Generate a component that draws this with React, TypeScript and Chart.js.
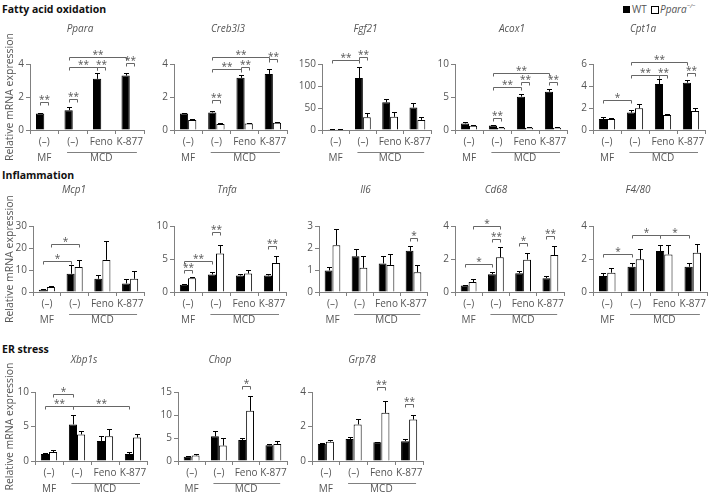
import React, { useEffect, useRef } from 'react';
import { Chart, registerables } from 'chart.js';

Chart.register(...registerables);

const FONT = "'Open Sans', 'Noto Sans', sans-serif";
const TEXT = '#555555';
const AXIS = '#808080';

// ---------- data ----------
const CATEGORIES = ['(–)', '(–)', 'Feno', 'K-877'];
const GROUP_LABELS = ['MF', 'MCD'];
const SERIES_NAMES = ['WT', 'Ppara−/−'];
const Y_TITLE = 'Relative mRNA expression';
const SECTIONS = ['Fatty acid oxidation', 'Inflammation', 'ER stress'];

// bracket: [catA, seriesA, catB, seriesB, level, label]
type Sig = [number, number, number, number, number, string];

const PPARA_WT = [1.0, 1.2, 3.1, 3.3];
const PPARA_WT_ERR = [0.06, 0.17, 0.34, 0.18];
const PPARA_KO = [0, 0, 0, 0];
const PPARA_KO_ERR = [0, 0, 0, 0];
const PPARA_SIG: Sig[] = [
  [0, 0, 0, 1, 1.7, '**'], [1, 0, 1, 1, 1.85, '**'], [1, 0, 2, 0, 3.8, '**'],
  [2, 0, 2, 1, 3.8, '**'], [1, 0, 3, 0, 4.4, '**'], [3, 0, 3, 1, 4.05, '**'],
];

const CREB_WT = [1.0, 1.06, 3.16, 3.4];
const CREB_WT_ERR = [0.05, 0.08, 0.2, 0.3];
const CREB_KO = [0.6, 0.36, 0.4, 0.44];
const CREB_KO_ERR = [0.07, 0.04, 0.03, 0.03];
const CREB_SIG: Sig[] = [
  [1, 0, 1, 1, 1.8, '**'], [1, 0, 2, 0, 3.7, '**'], [2, 0, 2, 1, 3.8, '**'],
  [1, 0, 3, 0, 4.4, '**'], [3, 0, 3, 1, 4.3, '**'],
];

const FGF_WT = [1.5, 118, 63, 51];
const FGF_WT_ERR = [0.5, 26, 7, 10];
const FGF_KO = [1.5, 29, 30, 23];
const FGF_KO_ERR = [0.5, 9, 12, 7];
const FGF_SIG: Sig[] = [[0, 0, 1, 0, 158, '**'], [1, 0, 1, 1, 165, '**']];

const ACOX_WT = [1.0, 0.7, 5.05, 5.8];
const ACOX_WT_ERR = [0.15, 0.1, 0.4, 0.35];
const ACOX_KO = [0.65, 0.35, 0.35, 0.35];
const ACOX_KO_ERR = [0.05, 0.05, 0.05, 0.05];
const ACOX_SIG: Sig[] = [
  [1, 0, 1, 1, 1.8, '**'], [1, 0, 2, 0, 6.5, '**'], [2, 0, 2, 1, 7.2, '**'],
  [1, 0, 3, 0, 8.6, '**'], [3, 0, 3, 1, 7.2, '**'],
];

const CPT_WT = [1.0, 1.58, 4.18, 4.3];
const CPT_WT_ERR = [0.15, 0.22, 0.46, 0.25];
const CPT_KO = [1.0, 1.97, 1.36, 1.73];
const CPT_KO_ERR = [0.06, 0.36, 0.09, 0.3];
const CPT_SIG: Sig[] = [
  [0, 0, 1, 0, 2.73, '*'], [1, 0, 2, 0, 5.0, '**'], [2, 0, 2, 1, 5.0, '**'],
  [1, 0, 3, 0, 6.2, '**'], [3, 0, 3, 1, 5.2, '**'],
];

const MCP_WT = [1.07, 8.3, 6.0, 3.9];
const MCP_WT_ERR = [0.3, 4.0, 1.8, 1.8];
const MCP_KO = [2.3, 11.4, 14.6, 6.0];
const MCP_KO_ERR = [0.5, 3.2, 8.4, 3.6];
const MCP_SIG: Sig[] = [[0, 0, 1, 0, 14, '*'], [0, 1, 1, 1, 21.7, '*']];

const TNF_WT = [1.1, 2.65, 2.5, 2.5];
const TNF_WT_ERR = [0.15, 0.35, 0.25, 0.3];
const TNF_KO = [2.1, 5.85, 2.8, 4.4];
const TNF_KO_ERR = [0.1, 1.25, 0.6, 1.0];
const TNF_SIG: Sig[] = [
  [0, 0, 0, 1, 3.4, '**'], [0, 0, 1, 0, 4.75, '**'], [1, 0, 1, 1, 9.1, '**'], [3, 0, 3, 1, 7.0, '**'],
];

const IL6_WT = [0.98, 1.62, 1.3, 1.87];
const IL6_WT_ERR = [0.14, 0.33, 0.35, 0.23];
const IL6_KO = [2.13, 1.1, 1.23, 0.9];
const IL6_KO_ERR = [0.72, 0.55, 0.49, 0.33];
const IL6_SIG: Sig[] = [[3, 0, 3, 1, 2.47, '*']];

const CD68_WT = [0.4, 1.08, 1.14, 0.84];
const CD68_WT_ERR = [0.05, 0.16, 0.16, 0.16];
const CD68_KO = [0.6, 2.1, 1.96, 2.24];
const CD68_KO_ERR = [0.2, 0.6, 0.4, 0.52];
const CD68_SIG: Sig[] = [
  [0, 0, 1, 0, 1.7, '*'], [0, 1, 1, 1, 4.0, '*'], [1, 0, 1, 1, 3.24, '**'],
  [2, 0, 2, 1, 2.94, '*'], [3, 0, 3, 1, 3.4, '**'],
];

const F480_WT = [0.97, 1.53, 2.48, 1.53];
const F480_WT_ERR = [0.16, 0.25, 0.35, 0.25];
const F480_KO = [1.17, 1.98, 2.28, 2.38];
const F480_KO_ERR = [0.3, 0.65, 0.55, 0.55];
const F480_SIG: Sig[] = [[0, 0, 1, 0, 2.28, '*'], [1, 0, 2, 0, 3.45, '*'], [2, 0, 3, 0, 3.45, '*']];

const XBP_WT = [1.0, 5.3, 2.9, 1.0];
const XBP_WT_ERR = [0.2, 1.4, 0.7, 0.35];
const XBP_KO = [1.3, 3.85, 3.6, 3.4];
const XBP_KO_ERR = [0.3, 0.45, 1.1, 0.5];
const XBP_SIG: Sig[] = [[0, 1, 1, 0, 9.76, '*'], [0, 0, 1, 0, 7.9, '**'], [1, 0, 3, 0, 7.9, '**']];

const CHOP_WT = [0.93, 5.36, 4.57, 3.43];
const CHOP_WT_ERR = [0.1, 1.2, 0.43, 0.36];
const CHOP_KO = [1.2, 3.36, 10.9, 3.71];
const CHOP_KO_ERR = [0.23, 1.64, 3.17, 0.72];
const CHOP_SIG: Sig[] = [[2, 0, 2, 1, 16.2, '*']];

const GRP_WT = [0.98, 1.27, 1.08, 1.15];
const GRP_WT_ERR = [0.05, 0.13, 0.04, 0.12];
const GRP_KO = [1.12, 2.12, 2.79, 2.4];
const GRP_KO_ERR = [0.08, 0.34, 0.67, 0.29];
const GRP_SIG: Sig[] = [[2, 0, 2, 1, 4.29, '**'], [3, 0, 3, 1, 3.33, '**']];

interface Gene {
  name: string; wt: number[]; wtErr: number[]; ko: number[]; koErr: number[];
  max: number; step: number; sig: Sig[];
}

const GENES: Gene[] = [
  { name: 'Ppara', wt: PPARA_WT, wtErr: PPARA_WT_ERR, ko: PPARA_KO, koErr: PPARA_KO_ERR, max: 4, step: 2, sig: PPARA_SIG },
  { name: 'Creb3l3', wt: CREB_WT, wtErr: CREB_WT_ERR, ko: CREB_KO, koErr: CREB_KO_ERR, max: 4, step: 2, sig: CREB_SIG },
  { name: 'Fgf21', wt: FGF_WT, wtErr: FGF_WT_ERR, ko: FGF_KO, koErr: FGF_KO_ERR, max: 150, step: 50, sig: FGF_SIG },
  { name: 'Acox1', wt: ACOX_WT, wtErr: ACOX_WT_ERR, ko: ACOX_KO, koErr: ACOX_KO_ERR, max: 10, step: 5, sig: ACOX_SIG },
  { name: 'Cpt1a', wt: CPT_WT, wtErr: CPT_WT_ERR, ko: CPT_KO, koErr: CPT_KO_ERR, max: 6, step: 2, sig: CPT_SIG },
  { name: 'Mcp1', wt: MCP_WT, wtErr: MCP_WT_ERR, ko: MCP_KO, koErr: MCP_KO_ERR, max: 30, step: 10, sig: MCP_SIG },
  { name: 'Tnfa', wt: TNF_WT, wtErr: TNF_WT_ERR, ko: TNF_KO, koErr: TNF_KO_ERR, max: 10, step: 5, sig: TNF_SIG },
  { name: 'Il6', wt: IL6_WT, wtErr: IL6_WT_ERR, ko: IL6_KO, koErr: IL6_KO_ERR, max: 3, step: 1, sig: IL6_SIG },
  { name: 'Cd68', wt: CD68_WT, wtErr: CD68_WT_ERR, ko: CD68_KO, koErr: CD68_KO_ERR, max: 4, step: 2, sig: CD68_SIG },
  { name: 'F4/80', wt: F480_WT, wtErr: F480_WT_ERR, ko: F480_KO, koErr: F480_KO_ERR, max: 4, step: 2, sig: F480_SIG },
  { name: 'Xbp1s', wt: XBP_WT, wtErr: XBP_WT_ERR, ko: XBP_KO, koErr: XBP_KO_ERR, max: 10, step: 5, sig: XBP_SIG },
  { name: 'Chop', wt: CHOP_WT, wtErr: CHOP_WT_ERR, ko: CHOP_KO, koErr: CHOP_KO_ERR, max: 15, step: 5, sig: CHOP_SIG },
  { name: 'Grp78', wt: GRP_WT, wtErr: GRP_WT_ERR, ko: GRP_KO, koErr: GRP_KO_ERR, max: 4, step: 2, sig: GRP_SIG },
];

// ---------- layout (pixels) ----------
interface Lay { left: number; right: number; top: number; bottom: number; canvasTop: number; titleX: number; titleY: number; yTitle?: boolean }
const ROW1 = { top: 64, bottom: 130, canvasTop: 16, titleY: 29 };
const ROW2 = { top: 226, bottom: 292, canvasTop: 178, titleY: 190 };
const ROW3 = { top: 392, bottom: 461, canvasTop: 345, titleY: 360 };
const LAYOUT: Lay[] = [
  { ...ROW1, left: 30, right: 144, titleX: 80, yTitle: true },
  { ...ROW1, left: 174, right: 287, titleX: 228 },
  { ...ROW1, left: 321.5, right: 430, titleX: 365 },
  { ...ROW1, left: 455, right: 567, titleX: 512 },
  { ...ROW1, left: 593, right: 705, titleX: 643 },
  { ...ROW2, left: 33, right: 144, titleX: 74, yTitle: true },
  { ...ROW2, left: 174, right: 286, titleX: 227 },
  { ...ROW2, left: 318.5, right: 426.5, titleX: 365 },
  { ...ROW2, left: 455, right: 564, titleX: 496 },
  { ...ROW2, left: 593, right: 707, titleX: 638 },
  { ...ROW3, left: 35, right: 147, titleX: 84, yTitle: true },
  { ...ROW3, left: 178, right: 287, titleX: 220 },
  { ...ROW3, left: 312, right: 423, titleX: 362 },
];

const X_AXIS_H = 36;
const PAD_RIGHT = 3;

function GeneChart({ gene, lay }: { gene: Gene; lay: Lay }) {
  const ref = useRef<HTMLCanvasElement>(null);
  const yW = lay.yTitle ? lay.left : 30;
  const canvasLeft = lay.left - yW;
  const width = Math.ceil(lay.right + PAD_RIGHT - canvasLeft);
  const height = lay.bottom - lay.canvasTop + X_AXIS_H;

  useEffect(() => {
    if (!ref.current) return;
    const errs = [gene.wtErr, gene.koErr];
    const overlay = {
      id: 'overlay',
      afterDatasetsDraw(chart: any) {
        const ctx = chart.ctx;
        const ys = chart.scales.y;
        ctx.save();
        ctx.strokeStyle = '#000';
        ctx.lineWidth = 1;
        for (let s = 0; s < 2; s++) {
          const meta = chart.getDatasetMeta(s);
          const vals = chart.data.datasets[s].data as number[];
          meta.data.forEach((el: any, i: number) => {
            const e = errs[s][i];
            if (!e) return;
            const x = Math.round(el.x) + 0.5;
            const y0 = ys.getPixelForValue(vals[i]);
            const y1 = Math.round(ys.getPixelForValue(vals[i] + e)) + 0.5;
            ctx.beginPath();
            ctx.moveTo(x, y0);
            ctx.lineTo(x, y1);
            ctx.moveTo(x - 2.5, y1);
            ctx.lineTo(x + 2.5, y1);
            ctx.stroke();
          });
        }
        ctx.restore();
      },
      afterDraw(chart: any) {
        const ctx = chart.ctx;
        const ys = chart.scales.y;
        const xs = chart.scales.x;
        const area = chart.chartArea;
        ctx.save();
        // significance brackets
        ctx.strokeStyle = '#666';
        ctx.lineWidth = 1;
        ctx.fillStyle = TEXT;
        ctx.font = `10px ${FONT}`;
        ctx.textAlign = 'center';
        ctx.textBaseline = 'bottom';
        gene.sig.forEach(([ca, sa, cb, sb, lvl, lab]) => {
          const xa = Math.round(chart.getDatasetMeta(sa).data[ca].x) + 0.5;
          const xb = Math.round(chart.getDatasetMeta(sb).data[cb].x) + 0.5;
          const y = Math.round(ys.getPixelForValue(lvl)) + 0.5;
          ctx.beginPath();
          ctx.moveTo(xa, y + 3);
          ctx.lineTo(xa, y);
          ctx.lineTo(xb, y);
          ctx.lineTo(xb, y + 3);
          ctx.stroke();
          ctx.fillText(lab, (xa + xb) / 2, y + 3);
        });
        // group labels
        const c0 = xs.getPixelForValue(0);
        const c1 = xs.getPixelForValue(1);
        const c3 = xs.getPixelForValue(3);
        const cw = c1 - c0;
        ctx.font = `10px ${FONT}`;
        ctx.textBaseline = 'middle';
        ctx.fillText(GROUP_LABELS[0], c0, area.bottom + 28.5);
        ctx.fillText(GROUP_LABELS[1], (c1 + c3) / 2, area.bottom + 28.5);
        ctx.strokeStyle = AXIS;
        const ly = Math.round(area.bottom + 22) + 0.5;
        ctx.beginPath();
        ctx.moveTo(c1 - 0.2 * cw, ly);
        ctx.lineTo(c3 + 0.25 * cw, ly);
        ctx.stroke();
        // gene title
        ctx.font = `italic 10px ${FONT}`;
        ctx.fillText(gene.name, lay.titleX - canvasLeft, lay.titleY - lay.canvasTop);
        ctx.restore();
      },
    };

    const tickFont = { family: FONT, size: 10 };
    const chart = new Chart(ref.current, {
      type: 'bar',
      data: {
        labels: CATEGORIES,
        datasets: [
          { label: SERIES_NAMES[0], data: gene.wt, backgroundColor: '#000', borderColor: '#000', borderWidth: 1, borderSkipped: 'start' },
          { label: SERIES_NAMES[1], data: gene.ko, backgroundColor: '#fff', borderColor: '#000', borderWidth: 1, borderSkipped: 'start' },
        ],
      },
      options: {
        responsive: false,
        maintainAspectRatio: false,
        animation: false,
        devicePixelRatio: 1,
        layout: { padding: { top: lay.top - lay.canvasTop, right: PAD_RIGHT, left: 0, bottom: 0 } },
        datasets: { bar: { categoryPercentage: 0.58, barPercentage: 1 } },
        plugins: { legend: { display: false }, tooltip: { enabled: false }, title: { display: false } },
        scales: {
          x: {
            grid: { display: true, drawOnChartArea: false, drawTicks: true, tickLength: 4, color: AXIS, offset: true },
            border: { display: true, color: AXIS },
            ticks: { autoSkip: false, maxRotation: 0, minRotation: 0, font: tickFont, color: TEXT, padding: 2 },
            afterFit: (s: any) => { s.height = X_AXIS_H; },
          },
          y: {
            min: 0,
            max: gene.max,
            ticks: { stepSize: gene.step, font: tickFont, color: TEXT, padding: 2 },
            grid: { display: true, drawOnChartArea: false, drawTicks: true, tickLength: 4, color: AXIS },
            border: { display: true, color: AXIS },
            title: lay.yTitle
              ? { display: true, text: Y_TITLE, font: { family: FONT, size: 10.5 }, color: TEXT, padding: { top: 4, bottom: 0 } }
              : { display: false },
            afterFit: (s: any) => { s.width = yW; },
          },
        },
      },
      plugins: [overlay],
    } as any);
    return () => chart.destroy();
  }, []);

  return (
    <canvas
      ref={ref}
      width={width}
      height={height}
      style={{ position: 'absolute', left: canvasLeft, top: lay.canvasTop, width, height }}
    />
  );
}

const sectionStyle: React.CSSProperties = {
  position: 'absolute', left: 2, fontFamily: FONT, fontWeight: 700, fontSize: 10.5, color: '#111', lineHeight: '14px', whiteSpace: 'nowrap',
};

export default function App() {
  return (
    <div style={{ position: 'fixed', left: 0, top: 0, width: 709, height: 497, background: '#fff', overflow: 'hidden' }}>
      <div style={{ ...sectionStyle, top: 2 }}>{SECTIONS[0]}</div>
      <div style={{ ...sectionStyle, top: 168 }}>{SECTIONS[1]}</div>
      <div style={{ ...sectionStyle, top: 342 }}>{SECTIONS[2]}</div>
      {/* legend */}
      <div style={{ position: 'absolute', left: 623, top: 6, width: 7, height: 7, background: '#000' }} />
      <div style={{ position: 'absolute', left: 632, top: 2, fontFamily: FONT, fontSize: 10, color: TEXT, lineHeight: '14px' }}>{SERIES_NAMES[0]}</div>
      <div style={{ position: 'absolute', left: 651, top: 6, width: 6, height: 6, background: '#fff', border: '1px solid #000' }} />
      <div style={{ position: 'absolute', left: 660, top: 2, fontFamily: FONT, fontSize: 10, color: TEXT, lineHeight: '14px', fontStyle: 'italic', whiteSpace: 'nowrap' }}>
        Ppara<sup style={{ fontSize: 6, verticalAlign: 'top', lineHeight: '8px' }}>−/−</sup>
      </div>
      {GENES.map((g, i) => (
        <GeneChart key={g.name} gene={g} lay={LAYOUT[i]} />
      ))}
    </div>
  );
}
